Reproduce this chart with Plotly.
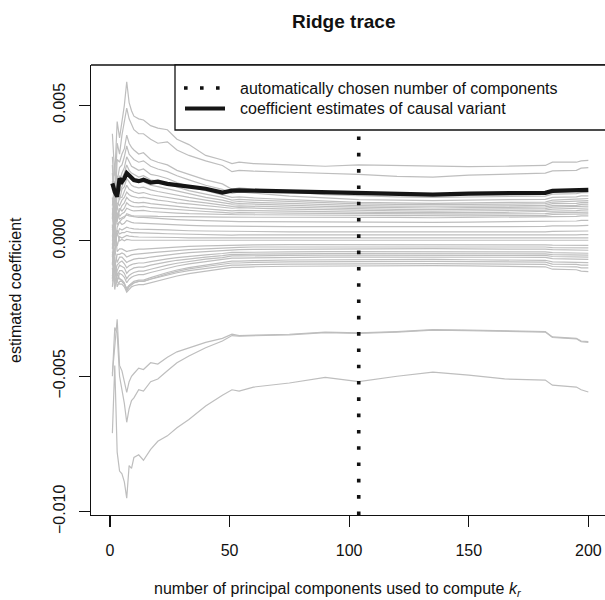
import plotly.graph_objects as go

# ---------------- data (coefficient values in units of 1e-3) ----------------
UNIT = 1e-3
k_values = [1, 2, 3, 4, 5, 6, 7, 8, 9, 10,
            12, 14, 17, 20, 24, 28, 33, 40, 47, 51,
            54, 60, 75, 90, 104, 120, 135, 150, 165, 182,
            185, 195, 197, 200]
x_tick_values = [0, 50, 100, 150, 200]
y_tick_values = [-0.010, -0.005, 0.0, 0.005]
y_tick_labels = ["\u22120.010", "\u22120.005", "0.000", "0.005"]
chosen_components = 104

causal_variant = [2.12, 1.8, 1.63, 2.3, 2.18, 2.3, 2.5, 2.42, 2.3, 2.24,
                  2.2, 2.25, 2.15, 2.18, 2.1, 2.05, 2.0, 1.92, 1.78, 1.85,
                  1.86, 1.85, 1.82, 1.78, 1.77, 1.73, 1.7, 1.74, 1.75, 1.77,
                  1.84, 1.85, 1.87, 1.88]

top1 = [3.95, 2.4, 4.4, 3.8, 4.4, 5.0, 5.87, 5.1, 4.8, 4.6,
        4.5, 4.46, 4.25, 4.16, 4.1, 3.75, 3.55, 3.15, 2.98, 2.85,
        2.9, 2.85, 2.8, 2.75, 2.8, 2.78, 2.75, 2.74, 2.75, 2.78,
        2.9, 2.9, 2.95, 2.97]
top2 = [3.1, 1.6, 3.6, 3.2, 3.9, 4.4, 4.9, 4.5, 4.3, 4.1,
        3.95, 3.95, 3.75, 3.6, 3.65, 3.35, 3.15, 2.95, 2.78, 2.55,
        2.6, 2.57, 2.53, 2.5, 2.45, 2.38, 2.35, 2.42, 2.47, 2.5,
        2.58, 2.6, 2.68, 2.7]
mid01 = [2.5, 1.0, 3.0, 2.9, 3.2, 3.4, 3.9, 3.6, 3.45, 3.35,
         3.2, 3.25, 3.0, 2.9, 2.8, 2.6, 2.45, 2.25, 2.1, 1.9,
         1.95, 1.9, 1.8, 1.7, 1.65, 1.62, 1.6, 1.62, 1.63, 1.65,
         1.72, 1.74, 1.78, 1.78]
mid02 = [1.9, 2.6, 2.2, 2.7, 2.8, 3.1, 3.5, 3.2, 3.1, 3.0,
         2.9, 2.95, 2.75, 2.65, 2.55, 2.4, 2.25, 2.05, 1.9, 1.75,
         1.8, 1.75, 1.65, 1.58, 1.52, 1.5, 1.48, 1.5, 1.51, 1.53,
         1.6, 1.62, 1.66, 1.66]
mid03 = [1.2, 0.6, 2.4, 2.2, 2.5, 2.7, 3.1, 2.9, 2.75, 2.7,
         2.6, 2.65, 2.45, 2.4, 2.3, 2.15, 2.0, 1.85, 1.7, 1.6,
         1.62, 1.58, 1.52, 1.46, 1.42, 1.4, 1.38, 1.4, 1.41, 1.43,
         1.5, 1.52, 1.55, 1.56]
mid04 = [2.2, 1.4, 1.9, 2.4, 2.3, 2.5, 2.8, 2.6, 2.5, 2.45,
         2.35, 2.4, 2.25, 2.2, 2.1, 1.98, 1.85, 1.72, 1.6, 1.5,
         1.53, 1.5, 1.45, 1.4, 1.36, 1.34, 1.33, 1.34, 1.35, 1.37,
         1.43, 1.45, 1.48, 1.48]
mid05 = [0.8, 2.0, 1.6, 1.8, 2.0, 2.2, 2.5, 2.35, 2.25, 2.2,
         2.15, 2.18, 2.05, 2.0, 1.92, 1.82, 1.72, 1.6, 1.5, 1.42,
         1.45, 1.42, 1.38, 1.33, 1.3, 1.28, 1.27, 1.28, 1.29, 1.31,
         1.37, 1.38, 1.41, 1.42]
mid06 = [1.6, 0.3, 1.8, 1.5, 1.9, 2.0, 2.3, 2.15, 2.05, 2.0,
         1.95, 1.98, 1.88, 1.82, 1.75, 1.68, 1.6, 1.5, 1.41, 1.35,
         1.37, 1.35, 1.31, 1.27, 1.24, 1.22, 1.21, 1.22, 1.23, 1.25,
         1.3, 1.31, 1.34, 1.35]
mid07 = [1.0, 1.5, 1.2, 1.6, 1.6, 1.8, 2.05, 1.9, 1.85, 1.8,
         1.75, 1.78, 1.7, 1.66, 1.6, 1.53, 1.47, 1.4, 1.32, 1.27,
         1.29, 1.27, 1.24, 1.21, 1.18, 1.16, 1.15, 1.16, 1.17, 1.19,
         1.24, 1.25, 1.27, 1.28]
mid08 = [2.8, 1.0, 1.4, 1.3, 1.5, 1.6, 1.8, 1.7, 1.65, 1.62,
         1.58, 1.6, 1.54, 1.5, 1.46, 1.4, 1.36, 1.3, 1.24, 1.2,
         1.22, 1.2, 1.17, 1.15, 1.12, 1.1, 1.09, 1.1, 1.11, 1.13,
         1.17, 1.18, 1.2, 1.21]
mid09 = [0.4, 0.9, 1.0, 1.1, 1.3, 1.4, 1.6, 1.5, 1.45, 1.42,
         1.4, 1.42, 1.37, 1.34, 1.3, 1.26, 1.22, 1.18, 1.14, 1.1,
         1.12, 1.11, 1.09, 1.08, 1.06, 1.04, 1.03, 1.04, 1.05, 1.07,
         1.1, 1.11, 1.13, 1.14]
mid10 = [1.3, 2.2, 0.7, 1.2, 1.1, 1.2, 1.4, 1.32, 1.28, 1.26,
         1.25, 1.27, 1.22, 1.2, 1.17, 1.14, 1.11, 1.08, 1.05, 1.02,
         1.04, 1.03, 1.02, 1.01, 1.0, 0.98, 0.97, 0.98, 0.99, 1.0,
         1.03, 1.04, 1.06, 1.06]
mid11 = [0.2, 0.5, 1.3, 0.9, 1.0, 1.05, 1.2, 1.15, 1.12, 1.1,
         1.1, 1.12, 1.08, 1.06, 1.04, 1.02, 1.0, 0.98, 0.96, 0.95,
         0.96, 0.96, 0.95, 0.95, 0.94, 0.92, 0.91, 0.92, 0.93, 0.94,
         0.97, 0.97, 0.99, 0.99]
mid12 = [1.0, -0.2, 0.5, 0.7, 0.8, 0.85, 1.0, 0.95, 0.93, 0.92,
         0.92, 0.93, 0.91, 0.9, 0.9, 0.89, 0.88, 0.88, 0.87, 0.87,
         0.88, 0.88, 0.88, 0.88, 0.88, 0.86, 0.85, 0.86, 0.87, 0.88,
         0.9, 0.9, 0.92, 0.92]
zer01 = [0.9, 0.3, 1.0, 0.8, 0.85, 0.9, 0.95, 0.92, 0.9, 0.88,
         0.86, 0.86, 0.84, 0.82, 0.8, 0.78, 0.76, 0.74, 0.72, 0.7,
         0.71, 0.71, 0.7, 0.7, 0.7, 0.69, 0.68, 0.69, 0.7, 0.71,
         0.73, 0.73, 0.75, 0.75]
zer02 = [-0.3, 1.2, 0.6, 0.7, 0.6, 0.65, 0.75, 0.7, 0.68, 0.66,
         0.65, 0.65, 0.63, 0.62, 0.6, 0.58, 0.57, 0.55, 0.54, 0.52,
         0.53, 0.53, 0.52, 0.52, 0.52, 0.51, 0.5, 0.51, 0.52, 0.53,
         0.55, 0.55, 0.56, 0.57]
zer03 = [0.5, 0.1, 0.2, 0.45, 0.4, 0.45, 0.5, 0.47, 0.45, 0.44,
         0.43, 0.43, 0.42, 0.41, 0.4, 0.38, 0.37, 0.36, 0.35, 0.34,
         0.34, 0.34, 0.33, 0.33, 0.33, 0.32, 0.32, 0.32, 0.33, 0.33,
         0.35, 0.35, 0.36, 0.36]
zer04 = [0.2, -0.5, 0.4, 0.25, 0.3, 0.3, 0.35, 0.32, 0.3, 0.3,
         0.29, 0.29, 0.28, 0.27, 0.26, 0.25, 0.24, 0.23, 0.22, 0.21,
         0.22, 0.22, 0.21, 0.21, 0.21, 0.2, 0.2, 0.2, 0.21, 0.21,
         0.22, 0.22, 0.23, 0.23]
zer05 = [0.0, 0.4, -0.2, 0.15, 0.1, 0.15, 0.2, 0.17, 0.15, 0.15,
         0.14, 0.14, 0.13, 0.13, 0.12, 0.12, 0.11, 0.11, 0.1, 0.1,
         0.1, 0.1, 0.1, 0.1, 0.1, 0.09, 0.09, 0.09, 0.1, 0.1,
         0.11, 0.11, 0.11, 0.11]
zer06 = [-0.6, 0.0, 0.3, 0.0, 0.05, 0.0, 0.05, 0.03, 0.02, 0.02,
         0.02, 0.02, 0.02, 0.02, 0.02, 0.02, 0.02, 0.02, 0.02, 0.02,
         0.02, 0.02, 0.02, 0.02, 0.02, 0.02, 0.02, 0.02, 0.02, 0.02,
         0.02, 0.02, 0.02, 0.02]
zer08 = [-0.9, 0.5, -0.4, -0.3, -0.3, -0.35, -0.4, -0.37, -0.35, -0.33,
         -0.31, -0.31, -0.29, -0.27, -0.25, -0.23, -0.21, -0.19, -0.17, -0.15,
         -0.15, -0.15, -0.14, -0.14, -0.14, -0.14, -0.13, -0.14, -0.14, -0.15,
         -0.16, -0.16, -0.17, -0.17]
zer09 = [-0.1, -1.0, -0.5, -0.5, -0.45, -0.5, -0.6, -0.55, -0.52, -0.5,
         -0.48, -0.48, -0.45, -0.42, -0.39, -0.36, -0.33, -0.3, -0.27, -0.24,
         -0.24, -0.23, -0.23, -0.22, -0.22, -0.22, -0.21, -0.22, -0.22, -0.23,
         -0.25, -0.25, -0.26, -0.26]
zer10 = [-1.4, -0.3, -0.8, -0.6, -0.6, -0.7, -0.8, -0.75, -0.7, -0.68,
         -0.65, -0.65, -0.6, -0.56, -0.52, -0.48, -0.44, -0.4, -0.36, -0.33,
         -0.33, -0.32, -0.31, -0.3, -0.3, -0.3, -0.29, -0.3, -0.3, -0.31,
         -0.33, -0.34, -0.35, -0.35]
neg01 = [0.6, -1.2, -0.9, -0.8, -0.75, -0.85, -1.0, -0.92, -0.88, -0.85,
         -0.82, -0.82, -0.77, -0.72, -0.67, -0.62, -0.57, -0.52, -0.47, -0.43,
         -0.43, -0.42, -0.41, -0.4, -0.4, -0.4, -0.39, -0.4, -0.4, -0.41,
         -0.44, -0.45, -0.46, -0.46]
neg02 = [-0.5, -1.6, -1.1, -0.9, -0.95, -1.0, -1.2, -1.1, -1.05, -1.0,
         -0.97, -0.97, -0.9, -0.84, -0.78, -0.72, -0.66, -0.6, -0.55, -0.5,
         -0.5, -0.49, -0.48, -0.47, -0.47, -0.47, -0.46, -0.47, -0.47, -0.48,
         -0.51, -0.52, -0.53, -0.53]
neg03 = [-1.7, -0.7, -1.3, -1.1, -1.1, -1.2, -1.4, -1.28, -1.22, -1.17,
         -1.12, -1.12, -1.05, -0.98, -0.9, -0.83, -0.76, -0.68, -0.62, -0.56,
         -0.56, -0.55, -0.54, -0.53, -0.53, -0.53, -0.52, -0.53, -0.53, -0.54,
         -0.58, -0.59, -0.6, -0.6]
neg04 = [-0.8, -1.4, -1.5, -1.2, -1.25, -1.35, -1.55, -1.42, -1.35, -1.3,
         -1.25, -1.25, -1.17, -1.1, -1.01, -0.93, -0.85, -0.77, -0.7, -0.64,
         -0.64, -0.63, -0.61, -0.6, -0.6, -0.6, -0.59, -0.6, -0.6, -0.61,
         -0.66, -0.67, -0.69, -0.69]
neg06 = [-1.5, -1.0, -1.4, -1.4, -1.45, -1.55, -1.8, -1.65, -1.57, -1.5,
         -1.45, -1.45, -1.36, -1.27, -1.17, -1.08, -0.99, -0.9, -0.82, -0.75,
         -0.75, -0.73, -0.71, -0.7, -0.7, -0.7, -0.69, -0.7, -0.7, -0.72,
         -0.78, -0.79, -0.81, -0.81]
neg07 = [-0.4, -1.1, -1.7, -1.5, -1.5, -1.6, -1.85, -1.7, -1.62, -1.56,
         -1.5, -1.5, -1.41, -1.32, -1.22, -1.13, -1.04, -0.95, -0.88, -0.82,
         -0.82, -0.8, -0.78, -0.77, -0.77, -0.77, -0.76, -0.77, -0.77, -0.79,
         -0.86, -0.87, -0.9, -0.9]
neg08 = [-1.0, -1.8, -1.2, -1.4, -1.5, -1.6, -1.75, -1.65, -1.6, -1.55,
         -1.5, -1.5, -1.42, -1.35, -1.27, -1.18, -1.1, -1.02, -0.95, -0.9,
         -0.9, -0.88, -0.86, -0.85, -0.85, -0.85, -0.84, -0.85, -0.85, -0.87,
         -0.95, -0.96, -1.0, -1.0]
neg09 = [-1.3, -0.6, -1.5, -1.6, -1.6, -1.7, -1.9, -1.78, -1.7, -1.66,
         -1.62, -1.62, -1.55, -1.47, -1.39, -1.3, -1.21, -1.12, -1.04, -0.98,
         -0.98, -0.96, -0.94, -0.93, -0.93, -0.93, -0.92, -0.93, -0.94, -0.96,
         -1.05, -1.07, -1.12, -1.14]
low1 = [-4.9, -3.8, -2.9, -4.6, -4.8, -5.2, -5.6, -5.2, -5.0, -4.9,
        -4.7, -4.75, -4.5, -4.55, -4.3, -4.1, -3.95, -3.75, -3.6, -3.45,
        -3.5, -3.48, -3.45, -3.37, -3.4, -3.35, -3.28, -3.3, -3.32, -3.35,
        -3.55, -3.6, -3.7, -3.72]
low2 = [-5.0, -3.2, -3.4, -5.0, -5.5, -6.0, -6.7, -6.2, -5.9, -5.8,
        -5.5, -5.55, -5.2, -5.1, -4.8, -4.5, -4.25, -3.95, -3.7, -3.5,
        -3.52, -3.5, -3.47, -3.39, -3.42, -3.37, -3.3, -3.32, -3.34, -3.37,
        -3.57, -3.62, -3.72, -3.75]
low3 = [-7.1, -4.6, -7.8, -8.5, -8.6, -8.9, -9.5, -8.3, -8.4, -8.0,
        -7.9, -8.1, -7.7, -7.4, -7.2, -6.9, -6.6, -6.1, -5.7, -5.5,
        -5.55, -5.4, -5.25, -5.04, -5.2, -5.0, -4.85, -4.96, -5.1, -5.14,
        -5.33, -5.4, -5.5, -5.58]

gray_series = [top1, top2, mid01, mid02, mid03, mid04, mid05, mid06, mid07,
               mid08, mid09, mid10, mid11, mid12, zer01, zer02, zer03, zer04,
               zer05, zer06, zer08, zer09, zer10, neg01, neg02, neg03,
               neg04, neg06, neg07, neg08, neg09, low1, low2, low3]

for s in gray_series + [causal_variant]:
    assert len(s) == len(k_values), len(s)

# ---------------- figure ----------------
FONT = "Liberation Sans, Arial, Helvetica, sans-serif"
fig = go.Figure()
for s in gray_series:
    fig.add_trace(go.Scatter(x=k_values, y=[v * UNIT for v in s], mode="lines",
                             line=dict(color="#bebebe", width=1.2),
                             hoverinfo="skip", showlegend=False))
fig.add_trace(go.Scatter(x=k_values, y=[v * UNIT for v in causal_variant],
                         mode="lines", line=dict(color="#151515", width=4.2),
                         hoverinfo="skip", showlegend=False))

W, H = 605, 600
L, R, T, B = 91, 0, 65, 600 - 515
pw, ph = W - L - R, H - T - B

def px_x(p):  # screen pixel -> paper
    return (p - L) / pw

def px_y(p):
    return (H - B - p) / ph

shapes = [
    dict(type="line", xref="x", yref="paper", x0=chosen_components, x1=chosen_components,
         y0=0, y1=1, line=dict(color="#111", width=3.6, dash="3.6px,12.7px"), layer="above"),
    dict(type="line", xref="paper", yref="paper", x0=0, x1=1.05, y0=1, y1=1,
         line=dict(color="#111", width=1.3), layer="above"),
    dict(type="rect", xref="paper", yref="paper", x0=px_x(175), x1=1.05,
         y0=px_y(130), y1=1, fillcolor="white", line=dict(color="#111", width=1.3),
         layer="above"),
    dict(type="line", xref="paper", yref="paper", x0=px_x(184), x1=px_x(222),
         y0=px_y(88), y1=px_y(88), line=dict(color="#111", width=3.6, dash="3.6px,12.4px"),
         layer="above"),
    dict(type="line", xref="paper", yref="paper", x0=px_x(185), x1=px_x(225),
         y0=px_y(108.5), y1=px_y(108.5), line=dict(color="#151515", width=4.2),
         layer="above"),
]

annotations = [
    dict(text="<b>Ridge trace</b>", xref="paper", yref="paper", x=px_x(343), y=px_y(21),
         xanchor="center", yanchor="middle", showarrow=False,
         font=dict(size=19, family=FONT, color="#111")),
    dict(text="number of principal components used to compute <i>k</i><sub><i>r</i></sub>",
         xref="paper", yref="paper", x=px_x(338), y=px_y(589),
         xanchor="center", yanchor="middle", showarrow=False,
         font=dict(size=16, family=FONT, color="#111")),
    dict(text="estimated coefficient", xref="paper", yref="paper", x=px_x(15), y=px_y(290),
         xanchor="center", yanchor="middle", showarrow=False, textangle=-90,
         font=dict(size=16, family=FONT, color="#111")),
    dict(text="automatically chosen number of components", xref="paper", yref="paper",
         x=px_x(238), y=px_y(88), xanchor="left", yanchor="middle", showarrow=False,
         font=dict(size=16, family=FONT, color="#111")),
    dict(text="coefficient estimates of causal variant", xref="paper", yref="paper",
         x=px_x(238), y=px_y(108.5), xanchor="left", yanchor="middle", showarrow=False,
         font=dict(size=16, family=FONT, color="#111")),
]

fig.update_layout(
    width=W, height=H,
    margin=dict(l=L, r=R, t=T, b=B, pad=0),
    paper_bgcolor="white", plot_bgcolor="white",
    showlegend=False,
    shapes=shapes, annotations=annotations,
    font=dict(family=FONT, size=16, color="#111"),
    xaxis=dict(range=[-7.94, 206.97], tickmode="array", tickvals=x_tick_values,
               ticks="outside", ticklen=11, tickwidth=1.3, tickcolor="#111",
               ticklabelstandoff=9,
               showline=True, linecolor="#111", linewidth=1.3,
               showgrid=False, zeroline=False,
               tickfont=dict(size=16, family=FONT, color="#111")),
    yaxis=dict(range=[-0.010122, 0.006488], tickmode="array", tickvals=y_tick_values,
               ticktext=y_tick_labels, tickangle=-90,
               ticks="outside", ticklen=11, tickwidth=1.3, tickcolor="#111",
               ticklabelstandoff=7,
               showline=True, linecolor="#111", linewidth=1.3,
               showgrid=False, zeroline=False,
               tickfont=dict(size=16, family=FONT, color="#111")),
)

fig.write_html(
    "out.html",
    config={"displayModeBar": False, "staticPlot": True},
    post_script=("document.body.style.margin='0';"
                 "document.body.style.overflow='hidden';"
                 "document.documentElement.style.overflow='hidden';"),
)
